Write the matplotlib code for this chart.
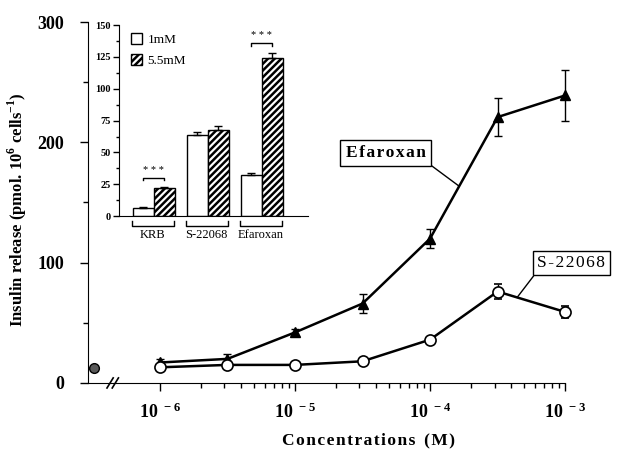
import numpy as np
import matplotlib.pyplot as plt
from matplotlib.patches import Patch

plt.rcParams['font.family'] = 'Liberation Serif'
plt.rcParams['mathtext.fontset'] = 'custom'
plt.rcParams['mathtext.rm'] = 'Liberation Serif'
plt.rcParams['mathtext.bf'] = 'Liberation Serif:bold'
plt.rcParams['hatch.linewidth'] = 1.8

# dose-response, x = log10 of concentration (M)
log_conc = [-6, -5.5, -5, -4.5, -4, -3.5, -3]
efaroxan = [17, 20, 42, 66, 120, 221, 239]
efaroxan_err = [3, 4, 3, 8, 8, 16, 21]
s22068 = [13, 15, 15, 18, 36, 76, 59]
s22068_err = [2, 2, 2, 2, 2, 6, 5]
control_x = -6.49
control = 12.5

# inset: release at 1 mM and 5.5 mM glucose
groups = ['KRB', 'S-22068', 'Efaroxan']
low_glc = [6, 64, 32]
low_err = [0.8, 2, 2]
high_glc = [22, 68, 124]
high_err = [0.8, 2.5, 4]


def spaced(s):
    return '\u200a'.join(s)


fig = plt.figure(figsize=(6.19, 4.5), dpi=100)
ax = fig.add_axes([0.142, 0.149, 0.771, 0.802])

e1 = ax.errorbar(log_conc, efaroxan, yerr=efaroxan_err, fmt='-^', color='k', ms=7,
                 lw=1.8, elinewidth=1, capsize=3, zorder=3)
e2 = ax.errorbar(log_conc, s22068, yerr=s22068_err, fmt='-o', color='k', mfc='white',
                 mec='k', mew=1.2, ms=8, lw=1.8, elinewidth=1, capsize=3, zorder=4)
for e in [e1, e2]:
    for art in e.get_children():
        art.set_clip_on(False)
ax.plot(control_x, control, 'o', mfc='0.35', mec='k', ms=7, clip_on=False, zorder=5)

ax.set_xlim(-6.533, -3)
ax.set_ylim(0, 300)
for s in ['top', 'right']:
    ax.spines[s].set_visible(False)

ax.set_xticks([-6, -5, -4, -3])
ax.set_xticklabels([r'$\mathbf{10^{\ -6}}$', r'$\mathbf{10^{\ -5}}$',
                    r'$\mathbf{10^{\ -4}}$', r'$\mathbf{10^{\ -3}}$'], fontsize=13)
minor = []
for d in [-6, -5, -4]:
    for k in range(2, 10):
        minor.append(d + np.log10(k))
ax.set_xticks(minor, minor=True)
ax.set_yticks([0, 100, 200, 300])
ax.set_yticks([50, 150, 250], minor=True)
ax.set_yticklabels(['0', '100', '200', '300'], fontsize=13, fontweight='bold')
ax.tick_params(which='major', length=6, width=1, pad=8)
ax.tick_params(which='minor', length=3.5, width=1)
ax.tick_params(axis='y', pad=11)

# axis break
for x0 in [0.040, 0.051]:
    ax.plot([x0, x0 + 0.013], [-0.014, 0.014], color='k', lw=1.2,
            transform=ax.transAxes, clip_on=False)

fig.text(369 / 619, 1 - 440 / 450, spaced('Concentrations') + '  ' + spaced('(M)'),
         ha='center', va='center', fontsize=12.5, fontweight='bold')
fig.text(17 / 619, 1 - 210 / 450, r'Insulin release (pmol. 10$^{\mathbf{6}}$ cells$^{\mathbf{-1}}$)',
         ha='center', va='center', rotation=90, fontsize=12, fontweight='bold')

ax.annotate(spaced('Efaroxan'), xy=(-3.79, 164), xytext=(-4.33, 191),
            ha='center', va='center', fontsize=12.5, fontweight='bold',
            bbox=dict(boxstyle='square,pad=0.3', fc='white', ec='k', lw=1),
            arrowprops=dict(arrowstyle='-', color='k', lw=1, relpos=(1, 0),
                            shrinkA=0, shrinkB=0))
ax.annotate(spaced('S-22068'), xy=(-3.356, 71), xytext=(-2.955, 99.6),
            ha='center', va='center', fontsize=12.5, annotation_clip=False,
            bbox=dict(boxstyle='square,pad=0.25', fc='white', ec='k', lw=1),
            arrowprops=dict(arrowstyle='-', color='k', lw=1, relpos=(0, 0),
                            shrinkA=0, shrinkB=0))

# inset bar chart
ins = fig.add_axes([0.192, 0.52, 0.305, 0.424])
pos = np.arange(len(groups))
w = 0.39
ins.bar(pos - w / 2, low_glc, w, color='white', edgecolor='k', lw=1)
ins.bar(pos + w / 2, high_glc, w, color='white', edgecolor='k', lw=1, hatch='/////')
ins.errorbar(pos - w / 2, low_glc, yerr=[np.zeros(3), low_err], fmt='none', ecolor='k',
             elinewidth=1, capsize=3)
ins.errorbar(pos + w / 2, high_glc, yerr=[np.zeros(3), high_err], fmt='none', ecolor='k',
             elinewidth=1, capsize=3)
ins.set_xlim(-0.65, 2.85)
ins.set_ylim(0, 150)
ins.set_yticks(np.arange(0, 151, 25))
ins.set_yticks(np.arange(12.5, 150, 25), minor=True)
ins.set_yticklabels([str(v) for v in range(0, 151, 25)], fontsize=7.5, fontweight='bold')
ins.tick_params(axis='y', which='major', length=4, width=1, pad=2)
ins.tick_params(axis='y', which='minor', length=2, width=1)
ins.set_xticks([])
ins.patch.set_alpha(0)
for s in ['top', 'right']:
    ins.spines[s].set_visible(False)

tr = ins.get_xaxis_transform()
for i, g in enumerate(groups):
    ins.plot([i - 0.41, i - 0.41, i + 0.37, i + 0.37], [-0.026, -0.052, -0.052, -0.026],
             color='k', lw=1, transform=tr, clip_on=False)
    ins.text(i - 0.02, -0.1, g, transform=tr, ha='center', va='center', fontsize=9)

for i, yb in [(0, 30), (2, 136)]:
    ins.plot([i - w / 2, i - w / 2, i + w / 2, i + w / 2], [yb - 2, yb, yb, yb - 2], color='k', lw=1)
    ins.text(i, yb + 2, '* * *', ha='center', va='bottom', fontsize=7.5)

handles = [Patch(fc='white', ec='k', lw=1), Patch(fc='white', ec='k', lw=1, hatch='/////')]
ins.legend(handles, ['1mM', '5.5mM'], loc='upper left', bbox_to_anchor=(0.02, 1.0),
           frameon=False, fontsize=9.5, handlelength=0.9, handleheight=0.9,
           handletextpad=0.4, labelspacing=0.6, borderaxespad=0.2)

fig.savefig('out.png', dpi=100)
